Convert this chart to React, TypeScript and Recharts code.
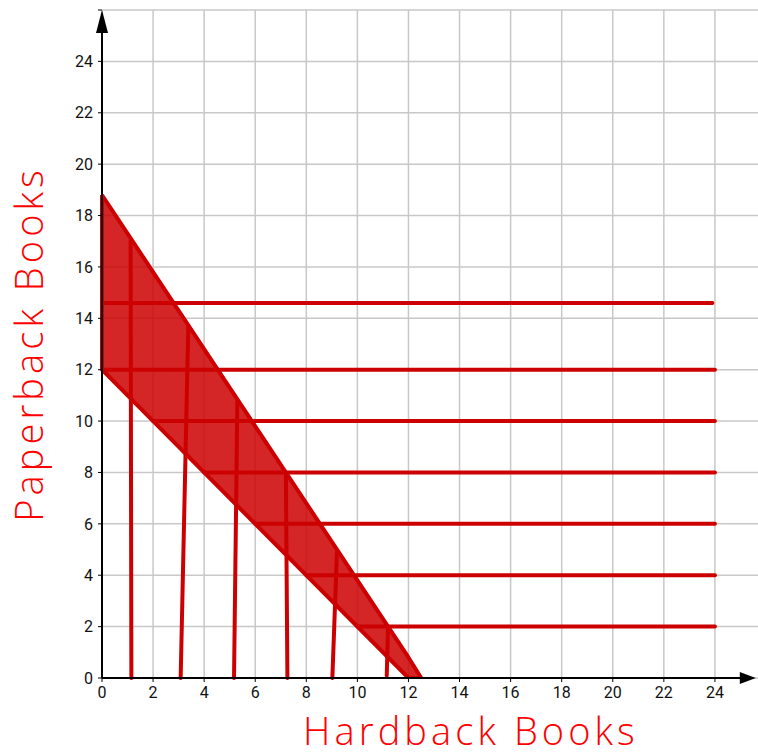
import React from 'react';
import {
  ComposedChart,
  XAxis,
  YAxis,
  CartesianGrid,
  Area,
  ReferenceLine,
  ReferenceDot,
  Label,
} from 'recharts';

// Shaded feasible region (between lower and upper boundary)
const regionX = [0, 12, 12.5];
const regionLow = [12, 0, 0];
const regionHigh = [18.8, 0.8, 0];

// Horizontal red lines
const hLineY = [14.6, 12, 10, 8, 6, 4, 2];
const hLineStartX = [0, 0, 2, 4, 6, 8, 10];
const hLineEndX = [23.9, 24, 24, 24, 24, 24, 24];

// Near-vertical red lines
const vLineBottomX = [1.15, 3.08, 5.17, 7.26, 9.02, 11.15];
const vLineBottomY = [0, 0, 0, 0, 0, 0.1];
const vLineTopX = [1.12, 3.38, 5.3, 7.2, 9.2, 11.2];
const vLineTopY = [17.0, 13.7, 10.8, 8.0, 4.9, 2.0];

// Left edge of region on the y axis
const edgeX = [0, 0];
const edgeY = [12, 18.8];

const axisTicks = [0, 2, 4, 6, 8, 10, 12, 14, 16, 18, 20, 22, 24, 26];
const axisMax = 26;
const xArrowTip = 25.6;
const xAxisEnd = 25.0;
const yAxisEnd = 25.2;

const xTitle = 'Hardback Books';
const yTitle = 'Paperback Books';

const RED = '#cc0000';

const regionData = regionX.map((x, i) => ({ x, band: [regionLow[i], regionHigh[i]] }));

const tickFmt = (v: number) => (v >= axisMax ? '' : String(v));

const XArrow = (props: any) => {
  const { cx, cy } = props;
  return <path d={`M${cx - 16},${cy - 6} L${cx},${cy} L${cx - 16},${cy + 6} Z`} fill="#000" />;
};
const YArrow = (props: any) => {
  const { cx, cy } = props;
  return <path d={`M${cx - 6},${cy + 23} L${cx},${cy} L${cx + 6},${cy + 23} Z`} fill="#000" />;
};

const tickStyle = { fill: '#111', fontSize: 16, fontFamily: 'Roboto, Arial, sans-serif' };

export default function App() {
  return (
    <div
      style={{
        position: 'absolute',
        left: 0,
        top: 0,
        width: 758,
        height: 755,
        overflow: 'hidden',
        background: '#fff',
      }}
    >
      <ComposedChart
        width={780}
        height={755}
        data={regionData}
        margin={{ top: 10, right: 14, bottom: 0, left: 0 }}
      >
        <CartesianGrid stroke="#c8c8c8" strokeWidth={1.5} />
        <XAxis
          type="number"
          dataKey="x"
          domain={[0, axisMax]}
          ticks={axisTicks}
          interval={0}
          tickFormatter={tickFmt}
          axisLine={false}
          tickLine={{ stroke: '#000' }}
          tickSize={4}
          tickMargin={5}
          tick={tickStyle}
          height={77}
          allowDataOverflow
        >
          <Label
            value={xTitle}
            position="insideBottom"
            offset={10}
            dx={37}
            fill="#ff0000"
            fontSize={38}
            fontFamily='"Open Sans", sans-serif'
            fontWeight={300}
            letterSpacing={4.1}
          />
        </XAxis>
        <YAxis
          type="number"
          domain={[0, axisMax]}
          ticks={axisTicks}
          interval={0}
          tickFormatter={tickFmt}
          axisLine={false}
          tickLine={{ stroke: '#000' }}
          tickSize={4}
          tickMargin={5}
          tick={tickStyle}
          width={102}
          allowDataOverflow
        >
          <Label
            value={yTitle}
            angle={-90}
            position="insideLeft"
            offset={30}
            dx={0}
            fill="#ff0000"
            fontSize={38}
            fontFamily='"Open Sans", sans-serif'
            fontWeight={300}
            letterSpacing={4.1}
            style={{ textAnchor: 'middle' }}
          />
        </YAxis>
        <Area
          type="linear"
          dataKey="band"
          stroke={RED}
          strokeWidth={4}
          strokeLinejoin="round"
          fill={RED}
          fillOpacity={0.85}
          dot={false}
          activeDot={false}
          isAnimationActive={false}
        />
        <ReferenceLine
          segment={[
            { x: edgeX[0], y: edgeY[0] },
            { x: edgeX[1], y: edgeY[1] },
          ]}
          stroke={RED}
          strokeWidth={4}
          ifOverflow="visible"
        />
        {hLineY.map((y, i) => (
          <ReferenceLine
            key={'h' + i}
            segment={[
              { x: hLineStartX[i], y },
              { x: hLineEndX[i], y },
            ]}
            stroke={RED}
            strokeWidth={4}
            strokeLinecap="round"
            ifOverflow="visible"
          />
        ))}
        {vLineBottomX.map((x, i) => (
          <ReferenceLine
            key={'v' + i}
            segment={[
              { x, y: vLineBottomY[i] },
              { x: vLineTopX[i], y: vLineTopY[i] },
            ]}
            stroke={RED}
            strokeWidth={4}
            strokeLinecap="round"
            ifOverflow="visible"
          />
        ))}
        <ReferenceLine
          segment={[
            { x: 0, y: 0 },
            { x: xAxisEnd, y: 0 },
          ]}
          stroke="#000"
          strokeWidth={2}
          ifOverflow="visible"
        />
        <ReferenceLine
          segment={[
            { x: 0, y: 0 },
            { x: 0, y: yAxisEnd },
          ]}
          stroke="#000"
          strokeWidth={2}
          ifOverflow="visible"
        />
        <ReferenceDot x={xArrowTip} y={0} r={1} shape={XArrow} ifOverflow="visible" />
        <ReferenceDot x={0} y={axisMax} r={1} shape={YArrow} ifOverflow="visible" />
      </ComposedChart>
    </div>
  );
}
